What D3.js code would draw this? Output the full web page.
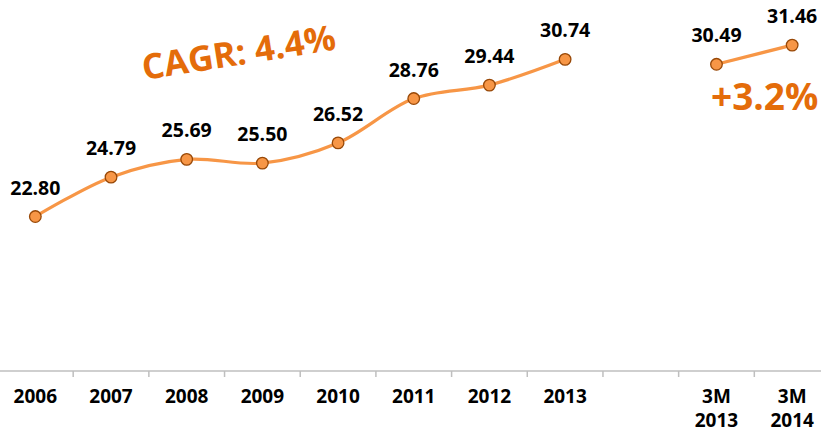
<!DOCTYPE html>
<html>
<head>
<meta charset="utf-8">
<script src="https://cdn.jsdelivr.net/npm/d3@7"></script>
<style>
  body { margin: 0; background: #fff; }
  svg { display: block; font-family: "Open Sans", Lato, sans-serif; }
</style>
</head>
<body>
<svg id="chart" width="821" height="432"></svg>
<script>
// categories (blank slot separates the yearly and quarterly values)
const categories = ["2006", "2007", "2008", "2009", "2010", "2011", "2012", "2013", "", "3M 2013", "3M 2014"];
const yearly = [22.80, 24.79, 25.69, 25.50, 26.52, 28.76, 29.44, 30.74, null, null, null];
const quarterly = [null, null, null, null, null, null, null, null, null, 30.49, 31.46];
const notes = ["CAGR: 4.4%", "+3.2%"];

const width = 821, height = 432;
const lineColor = "#F79646";
const noteColor = "#E46C0A";

const svg = d3.select("#chart");

const x = d3.scaleBand()
    .domain(categories)
    .range([-2.5, 830])
    .padding(0);

const y = d3.scaleLinear()
    .domain([15, 34])
    .range([371, 371 - 19 * 19.8]);

// axis line + ticks between categories
const axisY = y(15);
svg.append("line")
    .attr("x1", 0).attr("x2", width)
    .attr("y1", axisY).attr("y2", axisY)
    .attr("stroke", "#bfbfbf")
    .attr("stroke-width", 1.5);

svg.selectAll(".tick")
    .data(categories.slice(1))
    .enter().append("line")
    .attr("x1", d => x(d))
    .attr("x2", d => x(d))
    .attr("y1", axisY)
    .attr("y2", axisY + 6)
    .attr("stroke", "#bfbfbf")
    .attr("stroke-width", 1.5);

// category labels (split "3M 2013" into two lines)
const labels = svg.selectAll(".cat")
    .data(categories)
    .enter().append("text")
    .attr("class", "cat")
    .attr("text-anchor", "middle")
    .style("font-size", "19px")
    .style("font-weight", "bold")
    .attr("fill", "#000");

labels.each(function(d) {
    const parts = d.split(" ");
    const t = d3.select(this);
    parts.forEach((p, i) => {
        t.append("tspan")
            .attr("x", x(d) + x.bandwidth() / 2)
            .attr("y", 403 + i * 24)
            .text(p);
    });
});

const cx = (d, i) => x(categories[i]) + x.bandwidth() / 2;

const line = d3.line()
    .defined(d => d != null)
    .x((d, i) => cx(d, i))
    .y(d => y(d))
    .curve(d3.curveCatmullRom.alpha(0.5));

[yearly, quarterly].forEach(series => {
    svg.append("path")
        .datum(series)
        .attr("d", line)
        .attr("fill", "none")
        .attr("stroke", lineColor)
        .attr("stroke-width", 3.2);

    const pts = series.map((v, i) => ({ v, i })).filter(d => d.v != null);

    svg.selectAll(null)
        .data(pts)
        .enter().append("circle")
        .attr("cx", d => cx(d.v, d.i))
        .attr("cy", d => y(d.v))
        .attr("r", 5.8)
        .attr("fill", lineColor)
        .attr("stroke", "#984807")
        .attr("stroke-width", 1.3);

    svg.selectAll(null)
        .data(pts)
        .enter().append("text")
        .attr("x", d => cx(d.v, d.i))
        .attr("y", d => y(d.v) - 22)
        .attr("text-anchor", "middle")
        .style("font-size", "19.5px")
        .style("font-weight", "bold")
        .attr("fill", "#000")
        .text(d => d.v.toFixed(2));
});

// annotations
svg.append("text")
    .attr("transform", "translate(144,80) rotate(-9)")
    .style("font-size", "35px")
    .style("font-weight", "bold")
    .attr("fill", noteColor)
    .text(notes[0]);

svg.append("text")
    .attr("x", 711)
    .attr("y", 110)
    .style("font-size", "37px")
    .style("font-weight", "bold")
    .attr("fill", noteColor)
    .text(notes[1]);
</script>
</body>
</html>
